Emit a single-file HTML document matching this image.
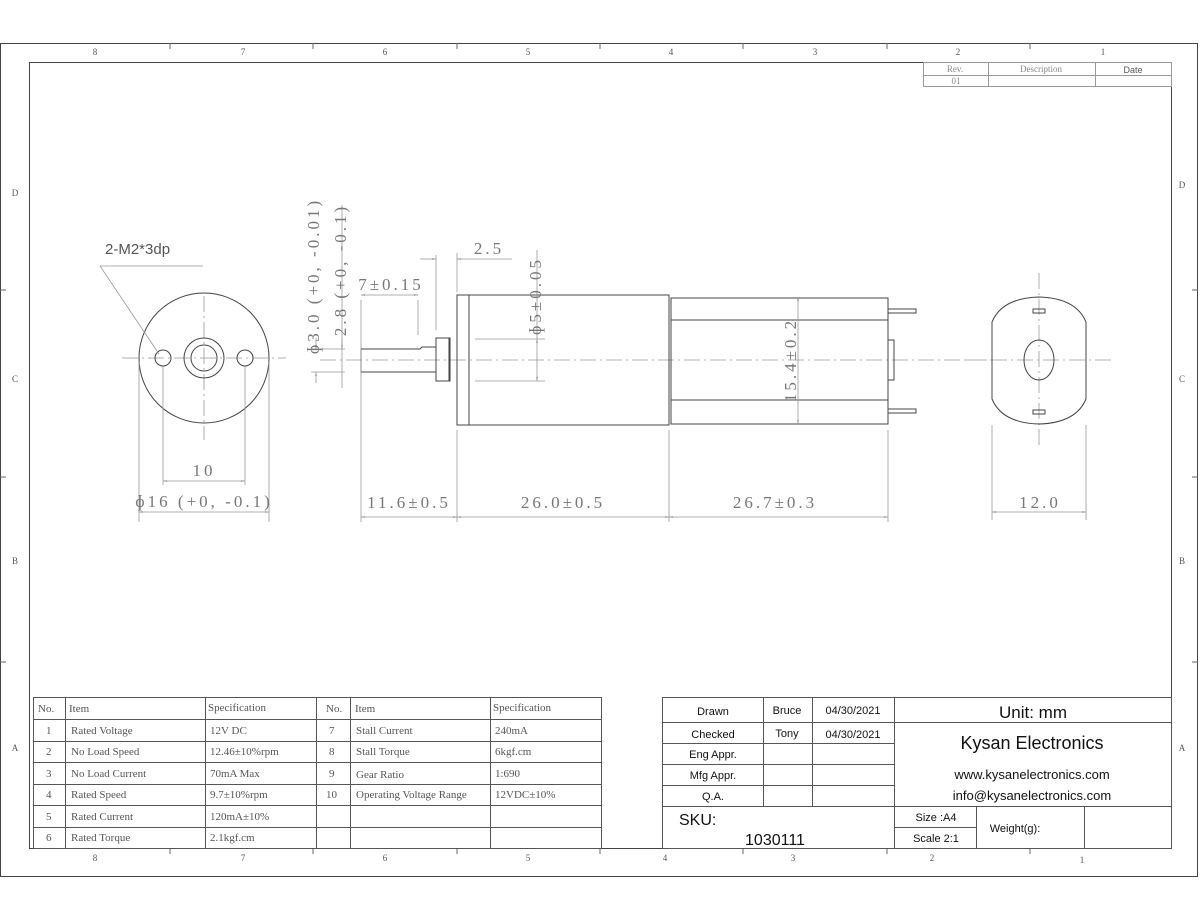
<!DOCTYPE html>
<html><head><meta charset="utf-8"><style>
html,body{margin:0;padding:0;background:#fff;width:1200px;height:910px;overflow:hidden}
svg{display:block}
text{font-family:"Liberation Serif","Noto Serif CJK SC",serif;fill:#555}
text.s,.s text{font-family:"Liberation Sans",sans-serif;fill:#111}
.d{font-size:17px;fill:#777;letter-spacing:3px}
.t{font-size:11px;fill:#222}
.z{font-size:9px;fill:#888}
</style></head><body>
<svg width="1200" height="910" viewBox="0 0 1200 910" xmlns="http://www.w3.org/2000/svg">
<defs>
<marker id="a" viewBox="0 0 10 10" refX="10" refY="5" markerWidth="7" markerHeight="5" orient="auto-start-reverse"><path d="M0,3 L10,5 L0,7 z" fill="#888"/></marker>
</defs>
<g fill="none" stroke="#444" stroke-width="1">
<rect x="0.5" y="43.5" width="1197" height="833"/>
<rect x="29.5" y="62.5" width="1142" height="786"/>
</g>
<g stroke="#666" stroke-width="1">
<path d="M170,43v6M313,43v6M457,43v6M600,43v6M743,43v6M887,43v6M1030,43v6"/>
<path d="M313,848v6M600,848v6M887,848v6M1030,848v6M170,848v6M457,848v6M743,848v6"/>
<path d="M0,290h6M0,477h6M0,662h6M1192,290h6M1192,477h6M1192,662h6"/>
</g>
<g class="z" text-anchor="middle">
<text x="95" y="55">8</text><text x="243" y="55">7</text><text x="385" y="55">6</text><text x="528" y="55">5</text><text x="671" y="55">4</text><text x="815" y="55">3</text><text x="958" y="55">2</text><text x="1103" y="55">1</text>
<text x="95" y="861">8</text><text x="243" y="861">7</text><text x="385" y="861">6</text><text x="528" y="861">5</text><text x="665" y="861">4</text><text x="793" y="861">3</text><text x="932" y="861">2</text><text x="1082" y="863">1</text>
<text x="15" y="196">D</text><text x="15" y="382">C</text><text x="15" y="564">B</text><text x="15" y="751">A</text>
<text x="1182" y="188">D</text><text x="1182" y="382">C</text><text x="1182" y="564">B</text><text x="1182" y="751">A</text>
</g>
<g fill="none" stroke="#999"><rect x="923.5" y="62.5" width="248" height="24"/><path d="M923,75.5h248M988.5,62v25M1095.5,62v25"/></g>
<text x="955" y="72" text-anchor="middle" class="z">Rev.</text><text x="1041" y="72" text-anchor="middle" class="z">Description</text><text x="1133" y="73" text-anchor="middle" class="s" style="font-size:9px;fill:#555">Date</text><text x="956" y="84" text-anchor="middle" class="z">01</text>

<g stroke="#999" stroke-width="0.8" stroke-dasharray="16,4,2,4" fill="none">
<path d="M122,358H286M204,296V440M320,360H1000M965,360H1115M1039,273V447"/>
</g>
<g fill="none" stroke="#444" stroke-width="1">
<circle cx="204" cy="358" r="65"/>
<circle cx="163" cy="358" r="8"/><circle cx="245" cy="358" r="8"/>
<circle cx="204" cy="358" r="20"/><circle cx="204" cy="358" r="13"/>
</g>
<g stroke="#999" stroke-width="0.8" fill="none">
<path d="M100,266H203M100,266L159,354"/>
<path d="M163,366V485M245,366V485M139,362V522M269,362V522"/>
<path d="M163,481H245" marker-start="url(#a)" marker-end="url(#a)"/>
<path d="M139,512H269" marker-start="url(#a)" marker-end="url(#a)"/>
</g>
<text x="105" y="254" class="s" style="font-size:15px;fill:#555">2-M2*3dp</text>
<text x="204" y="476" text-anchor="middle" class="d">10</text>
<text x="204" y="507" text-anchor="middle" class="d">ɸ16 (+0, -0.1)</text>

<g fill="none" stroke="#444" stroke-width="1">
<path d="M361,349H420L422,347H436V372H361Z"/>
<rect x="436" y="338" width="14" height="43"/><path d="M449,338V381"/>
<rect x="457" y="295" width="212" height="130"/><path d="M469,295V425"/>
<rect x="671" y="298" width="217" height="126"/><path d="M671,320H888M671,400H888"/>
<rect x="888" y="309" width="28" height="4"/><rect x="888" y="409" width="28" height="4"/>
<rect x="888" y="340" width="6" height="40"/>
</g>
<g stroke="#999" stroke-width="0.8" fill="none">
<path d="M311,349H345M311,372H345M342,205V388"/>
<path d="M316,338V349" marker-end="url(#a)"/><path d="M316,383V372" marker-end="url(#a)"/>
<path d="M342,338V349" marker-end="url(#a)"/>
<path d="M361,300V522M418,300V335M436,255V330M457,253V292M457,430V522M669,430V522M888,430V522"/>
<path d="M361,295H418" marker-start="url(#a)" marker-end="url(#a)"/>
<path d="M420,259H436" marker-end="url(#a)"/><path d="M512,259H457" marker-end="url(#a)"/>
<path d="M475,339H545M475,381H545M537,250V339"/>
<path d="M537,339V381" marker-start="url(#a)" marker-end="url(#a)"/>
<path d="M798,297V424" marker-start="url(#a)" marker-end="url(#a)"/>
<path d="M361,517H457" marker-start="url(#a)" marker-end="url(#a)"/>
<path d="M457,517H669" marker-start="url(#a)" marker-end="url(#a)"/>
<path d="M669,517H888" marker-start="url(#a)" marker-end="url(#a)"/>
</g>
<text class="d" transform="translate(319,276) rotate(-90)" text-anchor="middle">ɸ3.0 (+0, -0.01)</text>
<text class="d" transform="translate(346,270) rotate(-90)" text-anchor="middle">2.8 (+0, -0.1)</text>
<text x="391" y="290" text-anchor="middle" class="d">7±0.15</text>
<text x="489" y="254" text-anchor="middle" class="d">2.5</text>
<text class="d" transform="translate(541,296) rotate(-90)" text-anchor="middle">ɸ5±0.05</text>
<text class="d" transform="translate(796,360) rotate(-90)" text-anchor="middle">15.4±0.2</text>
<text x="409" y="508" text-anchor="middle" class="d">11.6±0.5</text>
<text x="563" y="508" text-anchor="middle" class="d">26.0±0.5</text>
<text x="775" y="508" text-anchor="middle" class="d">26.7±0.3</text>

<g fill="none" stroke="#444" stroke-width="1">
<path d="M992,322 Q1002,298 1039,297 Q1076,298 1086,322 V399 Q1076,423 1039,424 Q1002,423 992,399 Z"/>
<ellipse cx="1039" cy="360" rx="15" ry="20"/>
<rect x="1033" y="309" width="12" height="4"/><rect x="1033" y="410" width="12" height="4"/>
</g>
<g stroke="#999" stroke-width="0.8" fill="none">
<path d="M992,425V520M1086,425V520"/>
<path d="M992,512H1086" marker-start="url(#a)" marker-end="url(#a)"/>
</g>
<text x="1040" y="508" text-anchor="middle" class="d">12.0</text>

<g fill="none" stroke="#555" stroke-width="1">
<rect x="33.5" y="697.5" width="568" height="151"/>
<path d="M33,719.5H601M33,741.5H601M33,762.5H601M33,784.5H601M33,805.5H601M33,827.5H601"/>
<path d="M65.5,697V848M205.5,697V848M316.5,697V848M350.5,697V848M490.5,697V848"/>
</g>
<g class="t">
<text x="38" y="712">No.</text><text x="69" y="712">Item</text><text x="208" y="711">Specification</text>
<text x="326" y="712">No.</text><text x="355" y="712">Item</text><text x="493" y="711">Specification</text>
<text x="46" y="734">1</text><text x="71" y="734">Rated Voltage</text><text x="210" y="734">12V DC</text><text x="329" y="734">7</text><text x="356" y="734">Stall Current</text><text x="495" y="734">240mA</text>
<text x="46" y="755">2</text><text x="71" y="755">No Load Speed</text><text x="210" y="755">12.46±10%rpm</text><text x="329" y="755">8</text><text x="356" y="755">Stall Torque</text><text x="495" y="755">6kgf.cm</text>
<text x="46" y="777">3</text><text x="71" y="777">No Load Current</text><text x="210" y="777">70mA Max</text><text x="329" y="777">9</text><text x="356" y="778">Gear Ratio</text><text x="495" y="777">1:690</text>
<text x="46" y="798">4</text><text x="71" y="798">Rated Speed</text><text x="210" y="798">9.7±10%rpm</text><text x="326" y="798">10</text><text x="356" y="798">Operating Voltage Range</text><text x="495" y="798">12VDC±10%</text>
<text x="46" y="820">5</text><text x="71" y="820">Rated Current</text><text x="210" y="820">120mA±10%</text>
<text x="46" y="841">6</text><text x="71" y="841">Rated Torque</text><text x="210" y="841">2.1kgf.cm</text>
</g>

<g fill="none" stroke="#555" stroke-width="1">
<rect x="662.5" y="697.5" width="509" height="151"/>
<path d="M662,722.5H894M662,743.5H894M662,764.5H894M662,785.5H894M662,806.5H1171M894,722.5H1171"/>
<path d="M763.5,697V806M812.5,697V806M894.5,697V848M976.5,806V848M1084.5,806V848M894,827.5H976"/>
</g>
<g class="s" style="font-size:11px" text-anchor="middle">
<text x="713" y="715">Drawn</text><text x="787" y="714">Bruce</text><text x="853" y="714">04/30/2021</text>
<text x="713" y="738">Checked</text><text x="787" y="737">Tony</text><text x="853" y="738">04/30/2021</text>
<text x="713" y="758">Eng Appr.</text><text x="713" y="779">Mfg Appr.</text><text x="713" y="800">Q.A.</text>
<text x="1033" y="718" style="font-size:17px">Unit: mm</text>
<text x="1032" y="749" style="font-size:18px">Kysan Electronics</text>
<text x="1032" y="779" style="font-size:13px">www.kysanelectronics.com</text>
<text x="1032" y="800" style="font-size:13px">info@kysanelectronics.com</text>
<text x="936" y="821">Size :A4</text><text x="936" y="842">Scale 2:1</text>
<text x="1015" y="832">Weight(g):</text>
<text x="775" y="845" style="font-size:16px">1030111</text>
</g>
<text x="679" y="825" class="s" style="font-size:16px">SKU:</text>
</svg>
</body></html>
